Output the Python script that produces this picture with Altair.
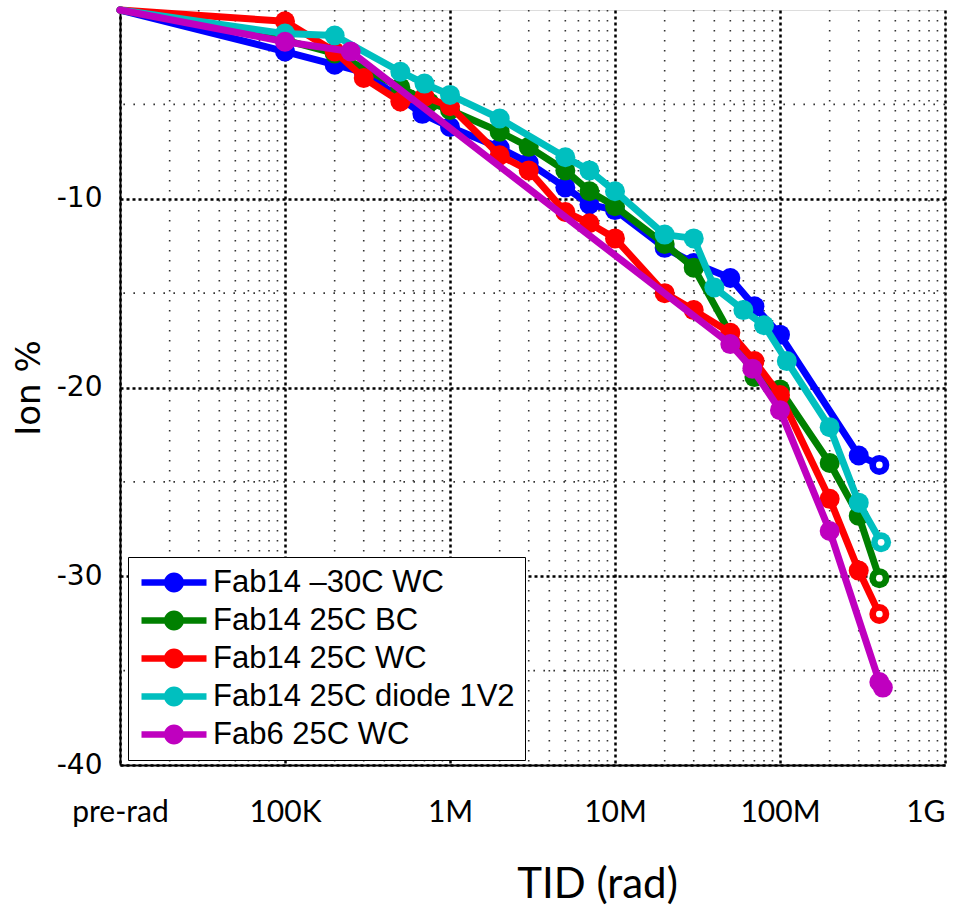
import altair as alt
import pandas as pd

series_names = ["Fab14 –30C WC", "Fab14 25C BC", "Fab14 25C WC",
                "Fab14 25C diode 1V2", "Fab6 25C WC"]
colors = ["#0000ff", "#008000", "#ff0000", "#00bfbf", "#bf00bf"]

blue_tid = [1e4, 1e5, 2e5, 3e5, 6.8e5, 1e6, 2e6, 3e6, 5e6, 7e6, 1e7, 2e7, 3e7, 5e7, 7e7, 1e8, 3e8, 4e8]
blue_ion = [0, -2.2, -2.9, -3.3, -5.5, -6.2, -7.3, -8.1, -9.4, -10.3, -10.6, -12.6, -13.4, -14.2, -15.7, -17.2, -23.6, -24.1]

green_tid = [1e4, 1e5, 2e5, 5e5, 7.5e5, 1e6, 2e6, 3e6, 5e6, 7e6, 1e7, 2e7, 3e7, 7e7, 1e8, 2e8, 3e8, 4e8]
green_ion = [0, -1.6, -2.3, -4.1, -4.9, -5.3, -6.45, -7.25, -8.5, -9.6, -10.4, -12.4, -13.65, -19.45, -20.1, -24.0, -26.8, -30.1]

red_tid = [1e4, 1e5, 2e5, 3e5, 5e5, 7e5, 1e6, 2e6, 3e6, 5e6, 7e6, 1e7, 2e7, 3e7, 5e7, 7e7, 1e8, 2e8, 3e8, 4e8]
red_ion = [0, -0.6, -2.2, -3.6, -4.85, -4.6, -5.1, -7.7, -8.5, -10.7, -11.3, -12.1, -15.0, -15.9, -17.1, -18.6, -20.4, -25.9, -29.7, -32.0]

cyan_tid = [1e4, 1e5, 2e5, 5e5, 7e5, 1e6, 2e6, 5e6, 7e6, 1e7, 2e7, 3e7, 4e7, 6e7, 8e7, 1.1e8, 2e8, 3e8, 4.1e8]
cyan_ion = [0, -1.25, -1.35, -3.27, -3.9, -4.5, -5.75, -7.8, -8.5, -9.6, -11.9, -12.1, -14.7, -15.9, -16.7, -18.6, -22.1, -26.1, -28.2]

purple_tid = [1e4, 1e5, 2.5e5, 5e7, 6.8e7, 1e8, 2e8, 4e8, 4.2e8]
purple_ion = [0, -1.68, -2.2, -17.7, -19.0, -21.2, -27.6, -35.6, -35.9]

x_ticks = [1e4, 1e5, 1e6, 1e7, 1e8, 1e9]
x_tick_labels = ["pre-rad", "100K", "1M", "10M", "100M", "1G"]
y_ticks = [-40, -30, -20, -10]
x_minor = [m * 10 ** e for e in range(4, 9) for m in range(2, 10)]
y_minor = [-5, -15, -25, -35]

all_tid = [blue_tid, green_tid, red_tid, cyan_tid, purple_tid]
all_ion = [blue_ion, green_ion, red_ion, cyan_ion, purple_ion]

rows = []
for name, xs, ys in zip(series_names, all_tid, all_ion):
    for i, (xv, yv) in enumerate(zip(xs, ys)):
        rows.append({"series": name, "tid": xv, "ion": yv, "idx": i,
                     "last": i == len(xs) - 1})
df = pd.DataFrame(rows)

label_expr = " : ".join(
    [f"datum.value == {v} ? '{l}'" for v, l in zip(x_ticks, x_tick_labels)]) + " : ''"

x_scale = alt.Scale(type="log", domain=[1e4, 1e9], nice=False)
y_scale = alt.Scale(domain=[-40, 0], nice=False, zero=False)
color_scale = alt.Scale(domain=series_names, range=colors)

x_axis = alt.Axis(values=x_ticks, labelExpr=label_expr, title="TID (rad)",
                  labelFont="Lato", labelFontSize=30,
                  labelPadding=32, labelColor="black", labelFlush=False,
                  labelAlign={"condition": {"test": "datum.value >= 1e9", "value": "right"},
                              "value": "center"},
                  titleFont="Lato", titleFontSize=42,
                  titleFontWeight="normal", titleColor="black",
                  titleX=477, titleY=132, titleAlign="center", titleBaseline="alphabetic",
                  ticks=False, grid=True, gridColor="black", gridDash=[3, 3],
                  gridWidth=2.5, gridOpacity=1, domainColor="black", domainWidth=2)
y_axis = alt.Axis(values=y_ticks, title="Ion %", labelFont="DejaVu Sans",
                  labelExpr="datum.value < 0 ? '-' + format(-datum.value, 'd') : format(datum.value, 'd')",
                  labelFontSize=28, labelPadding=18, labelColor="black",
                  titleFont="DejaVu Sans", titleFontSize=34, titleFontWeight="normal",
                  titleColor="black", titlePadding=10, ticks=False, grid=True,
                  gridColor="black", gridDash=[3, 3], gridWidth=2.5, gridOpacity=1,
                  domainColor="black", domainWidth=2)

base = alt.Chart(df)

minor_x = alt.Chart(pd.DataFrame({"tid": x_minor})).mark_rule(
    color="#333", strokeWidth=1.6, strokeDash=[1.6, 8.4]).encode(
    x=alt.X("tid:Q", scale=x_scale, axis=x_axis))
minor_y = alt.Chart(pd.DataFrame({"ion": y_minor})).mark_rule(
    color="#333", strokeWidth=1.6, strokeDash=[1.6, 8.4]).encode(
    y=alt.Y("ion:Q", scale=y_scale, axis=y_axis))

# legend glyph: line with a circle, in units of 10 px (symbolSize 400)
sym_path = ("M-1.2,-0.32H5.3V0.32H-1.2Z "
            "M1.05,0A1,1 0 1,1 3.05,0A1,1 0 1,1 1.05,0Z")

legend = alt.Legend(orient="none", legendX=8, legendY=547, title=None,
                    symbolType=sym_path, symbolSize=400, symbolStrokeWidth=0,
                    symbolOpacity=1, labelFont="Liberation Sans", labelFontSize=31,
                    labelColor="black", labelOffset=44, labelLimit=400,
                    strokeColor="black", fillColor="white", padding=10,
                    rowPadding=6)

layers = [minor_x, minor_y]
for name, col in zip(series_names, colors):
    sub = base.transform_filter(alt.datum.series == name)
    line = sub.mark_line(strokeWidth=7, strokeCap="round", strokeJoin="round",
                         color=col).encode(
        x=alt.X("tid:Q", scale=x_scale, axis=x_axis),
        y=alt.Y("ion:Q", scale=y_scale, axis=y_axis),
        order=alt.Order("idx:Q"))
    pts = sub.transform_filter(alt.datum.idx > 0).mark_circle(size=400, opacity=1).encode(
        x=alt.X("tid:Q", scale=x_scale, axis=x_axis),
        y=alt.Y("ion:Q", scale=y_scale, axis=y_axis),
        fill=alt.Fill("series:N", scale=color_scale, legend=legend))
    layers += [line, pts]

ends = base.transform_filter(
    (alt.datum.last == True) & (alt.datum.series != series_names[4])
).mark_circle(size=45, color="white", opacity=1).encode(
    x=alt.X("tid:Q", scale=x_scale, axis=x_axis),
    y=alt.Y("ion:Q", scale=y_scale, axis=y_axis))
layers.append(ends)

chart = alt.layer(*layers).properties(
    width=825, height=755,
    padding={"left": 120, "top": 10, "right": 10, "bottom": 151},
    autosize=alt.AutoSizeParams(type="none"),
).configure_view(stroke="black", strokeWidth=2).configure(background="white")

chart.save("out.html", embed_options={"renderer": "svg", "actions": False})
